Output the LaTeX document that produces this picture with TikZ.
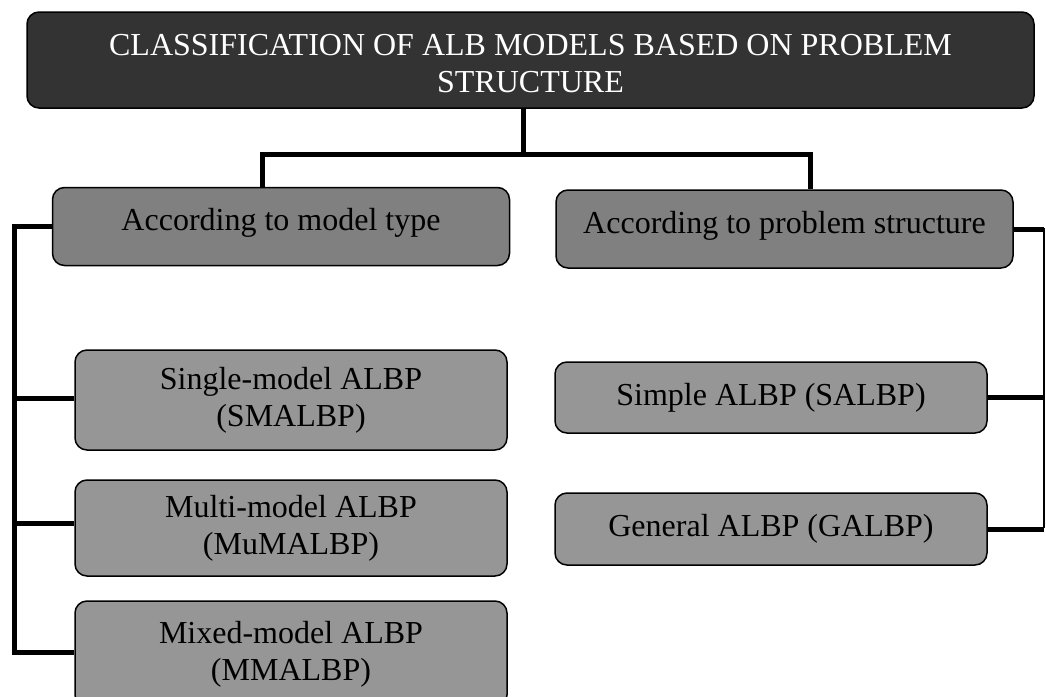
\documentclass[tikz,border=0pt]{standalone}
\usepackage{fontspec}
\setmainfont{Liberation Serif}
\definecolor{headgray}{RGB}{51,51,51}
\definecolor{catgray}{RGB}{128,128,128}
\definecolor{leafgray}{RGB}{150,150,150}
\begin{document}
\begin{tikzpicture}[x=1pt,y=-1pt,
  box/.style={draw=black, line width=1.5pt, rounded corners=12pt, align=center,
    inner sep=0pt, font=\fontsize{32pt}{37pt}\selectfont},
  headbox/.style={box, fill=headgray, text=white},
  catbox/.style={box, fill=catgray, minimum width=457pt, minimum height=78pt,
    text height=22pt, text depth=14pt},
  leafbox/.style={box, fill=leafgray, minimum width=432pt},
  conn/.style={line width=5pt, line join=miter},
  thinconn/.style={line width=1.5pt}]
  \clip (0,0) rectangle (1046,696);

  % header (extra room above the two lines sets them a little low in the box)
  \node[headbox, minimum width=1007pt, minimum height=96pt] (top) at (530.5,60)
    {\raisebox{0pt}[\dimexpr\height+14pt\relax][\depth]{\begin{tabular}{@{}c@{}}CLASSIFICATION OF ALB MODELS BASED ON PROBLEM\\STRUCTURE\end{tabular}}};

  % two classification criteria
  \node[catbox] (lt) at (281,226.5) {According to model type};
  \node[catbox] (rt) at (784.5,229) {According to problem structure};

  % model-type classes
  \node[leafbox, minimum height=100pt] (s1) at (291,400) {Single-model ALBP\\(SMALBP)};
  \node[leafbox, minimum height=96pt]  (s2) at (291,528) {Multi-model ALBP\\(MuMALBP)};
  \node[leafbox, minimum height=106pt] (s3) at (291,654) {Mixed-model ALBP\\(MMALBP)};

  % problem-structure classes
  \node[leafbox, minimum height=71pt] (r1) at (771,397.5) {Simple ALBP (SALBP)};
  \node[leafbox, minimum height=72pt] (r2) at (771,529) {General ALBP (GALBP)};

  % junction points of the tree
  \coordinate (jn) at (523,154);
  \coordinate (hl) at (262,154);
  \coordinate (hr) at (810,154);
  \coordinate (lvb) at (14.5,655);
  \coordinate (rv) at (1044,228);
  \coordinate (rvb) at (1044,528);

  % header to criteria
  \draw[conn] (jn |- top.south) -- (jn);
  \draw[conn] (hl |- lt.north) -- (hl) -- (hr) -- (hr |- rt.north);

  % left branch
  \draw[conn] (lt.west) -| (lvb);
  \draw[conn] ([yshift=2pt]s1.west) -- ([yshift=2pt]s1.west -| lvb);
  \draw[conn] ([yshift=5pt]s2.west) -- ([yshift=5pt]s2.west -| lvb);
  \draw[conn] ([yshift=2pt]s3.west) -- ([yshift=2pt]s3.west -| lvb);

  % right branch
  \draw[conn] (rt.east) -- (rt.east -| rv);
  \draw[thinconn] (rv) -- (rvb);
  \draw[conn] (r1.east) -- (r1.east -| rv);
  \draw[conn] (r2.east) -- (r2.east -| rv);
\end{tikzpicture}
\end{document}
